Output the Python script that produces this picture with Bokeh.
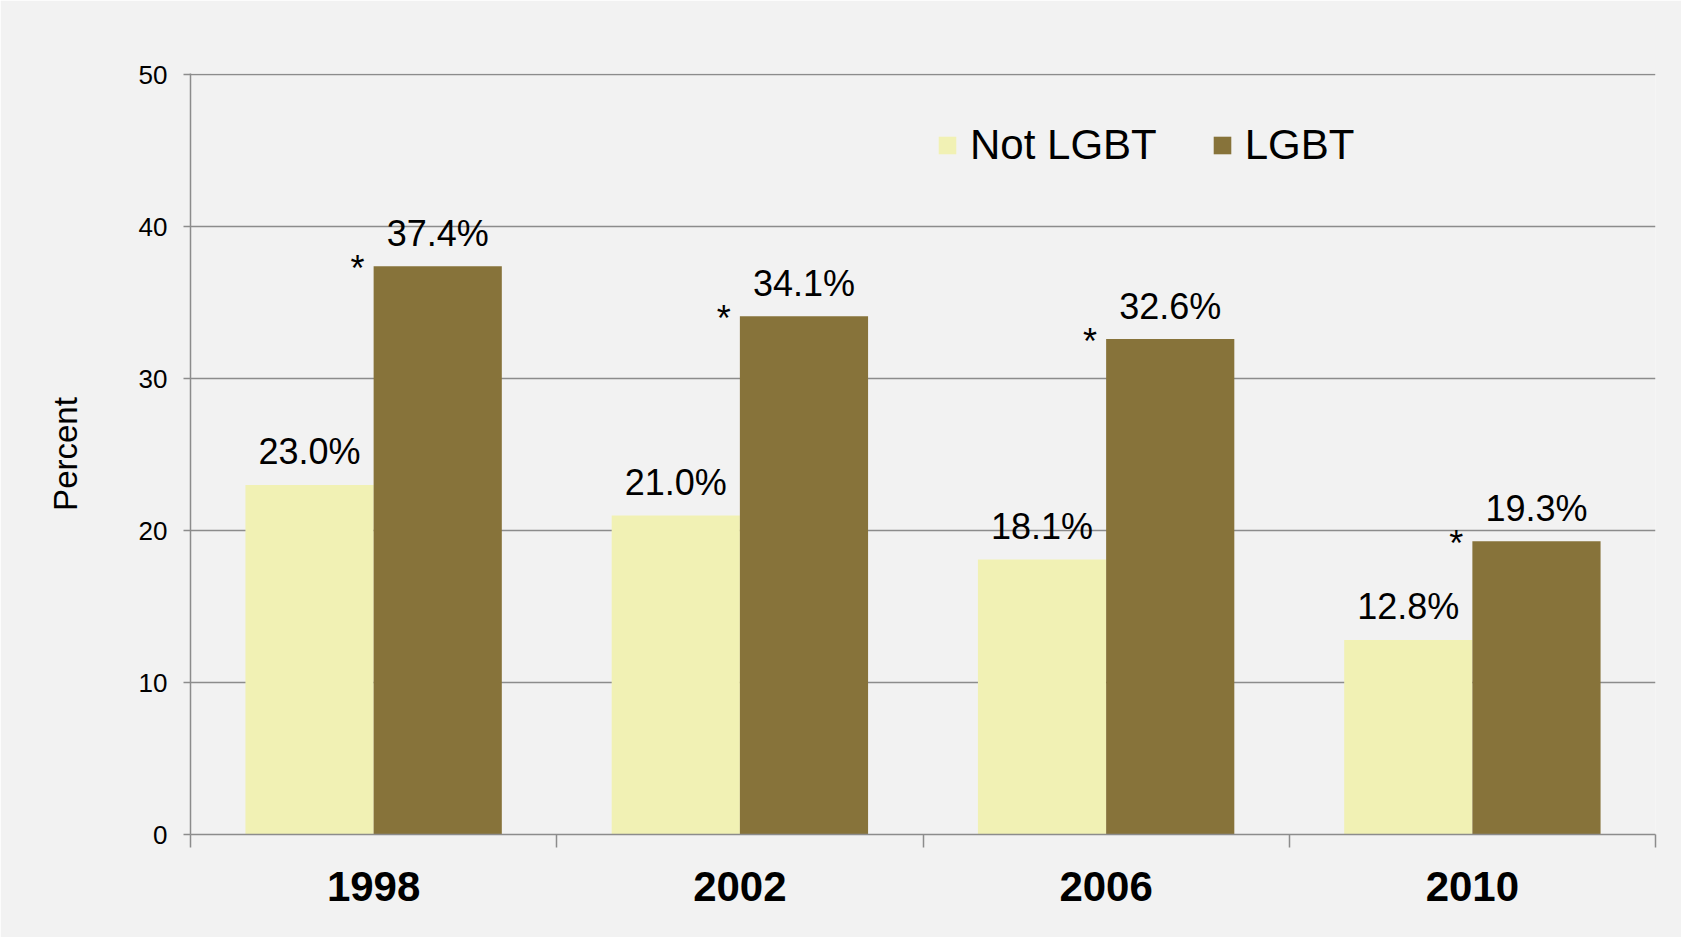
import numpy as np
from bokeh.plotting import figure
from bokeh.models import (Range1d, FixedTicker, Legend, LegendItem, ColumnDataSource)
from bokeh.core.properties import value
from bokeh.embed import file_html
from bokeh.resources import INLINE

# ---- data ----
years = ["1998", "2002", "2006", "2010"]
not_lgbt = [23.0, 21.0, 18.1, 12.8]
lgbt = [37.4, 34.1, 32.6, 19.3]
significant = [True, True, True, True]
y_ticks = [0, 10, 20, 30, 40, 50]
series_names = ["Not LGBT", "LGBT"]

FONT = "Liberation Sans"
BG = "#f2f2f2"
GRID = "#8c8c8c"
C_NOT = "#f1f1b4"
C_LGBT = "#87733a"
BAR_W = 0.35

centers = np.arange(len(years)) + 0.5
x_not = centers - BAR_W / 2
x_lgbt = centers + BAR_W / 2

p = figure(width=1681, height=937, output_backend="svg", toolbar_location=None,
           x_range=Range1d(0, len(years)), y_range=Range1d(0, 50.08))
p.min_border_left = 190
p.min_border_right = 26
p.min_border_top = 73
p.min_border_bottom = 103
p.background_fill_color = BG
p.border_fill_color = BG
p.outline_line_color = None

src_not = ColumnDataSource(dict(x=x_not, top=not_lgbt,
                                lab=["%.1f%%" % v for v in not_lgbt]))
src_lgbt = ColumnDataSource(dict(x=x_lgbt, top=lgbt,
                                 lab=["%.1f%%" % v for v in lgbt]))

r_not = p.vbar(x="x", top="top", width=BAR_W, source=src_not,
               fill_color=C_NOT, line_color=None)
r_lgbt = p.vbar(x="x", top="top", width=BAR_W, source=src_lgbt,
                fill_color=C_LGBT, line_color=None)

# value labels
for src in (src_not, src_lgbt):
    p.text(x="x", y="top", text="lab", source=src, text_align="center",
           text_baseline="alphabetic", y_offset=-33,
           text_font=value(FONT), text_font_size="36px", text_color="black")

# significance asterisks at left top corner of LGBT bars
sig_src = ColumnDataSource(dict(
    x=[c for c, s in zip(centers, significant) if s],
    y=[v for v, s in zip(lgbt, significant) if s]))
p.text(x="x", y="y", text=value("*"), source=sig_src, text_align="center",
       text_baseline="alphabetic", x_offset=-16, y_offset=2,
       text_font=value(FONT), text_font_size="36px", text_color="black")

# x axis: boundaries as minor ticks, years as labels
xax = p.xaxis[0]
xax.ticker = FixedTicker(ticks=list(centers),
                         minor_ticks=list(range(len(years) + 1)))
xax.major_label_overrides = {float(c): y for c, y in zip(centers, years)}
xax.major_tick_line_color = None
xax.major_tick_out = 13
xax.major_tick_in = 0
xax.minor_tick_line_color = GRID
xax.minor_tick_line_width = 1.5
xax.minor_tick_out = 13
xax.minor_tick_in = 0
xax.axis_line_color = GRID
xax.axis_line_width = 1.5
xax.major_label_text_font = FONT
xax.major_label_text_font_size = "42px"
xax.major_label_text_font_style = "bold"
xax.major_label_text_color = "black"
xax.major_label_standoff = 24

yax = p.yaxis[0]
yax.ticker = FixedTicker(ticks=y_ticks)
yax.minor_tick_line_color = None
yax.major_tick_line_color = GRID
yax.major_tick_line_width = 1.5
yax.major_tick_out = 7
yax.major_tick_in = 0
yax.axis_line_color = GRID
yax.axis_line_width = 1.5
yax.major_label_text_font = FONT
yax.major_label_text_font_size = "26px"
yax.major_label_text_color = "black"
yax.major_label_standoff = 16
yax.axis_label = "Percent"
yax.axis_label_text_font = FONT
yax.axis_label_text_font_size = "33px"
yax.axis_label_text_font_style = "normal"
yax.axis_label_text_color = "black"
yax.axis_label_standoff = 52

p.xgrid.grid_line_color = None
p.ygrid.ticker = FixedTicker(ticks=y_ticks)
p.ygrid.grid_line_color = GRID
p.ygrid.grid_line_width = 1.5

legend = Legend(items=[LegendItem(label=series_names[0], renderers=[r_not]),
                       LegendItem(label=series_names[1], renderers=[r_lgbt])],
                location=(746, 665), orientation="horizontal",
                glyph_width=22, glyph_height=22, label_standoff=12, spacing=54,
                padding=0, margin=0, background_fill_alpha=0,
                border_line_color=None,
                label_text_font=FONT, label_text_font_size="42px",
                label_text_color="black")
p.add_layout(legend)

open("out.html", "w").write(file_html(p, INLINE))
